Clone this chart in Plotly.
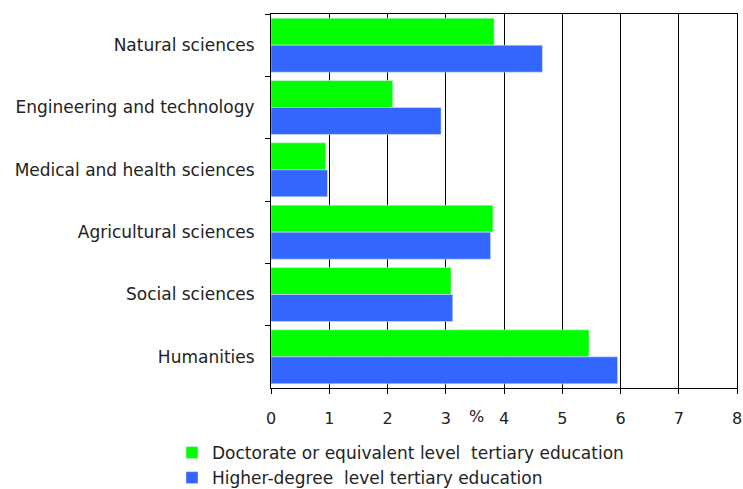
import plotly.graph_objects as go

fields = ["Natural sciences", "Engineering and technology", "Medical and health sciences",
          "Agricultural sciences", "Social sciences", "Humanities"]
doctorate = [3.83, 2.09, 0.94, 3.81, 3.09, 5.46]
higher_degree = [4.66, 2.92, 0.97, 3.77, 3.12, 5.95]
x_ticks = [0, 1, 2, 3, 4, 5, 6, 7, 8]

font = "DejaVu Sans"
W, H = 743, 489

fig = go.Figure()
fig.add_trace(go.Bar(y=fields, x=doctorate, orientation="h",
                     name="Doctorate or equivalent level  tertiary education",
                     marker=dict(color="#00FF00")))
fig.add_trace(go.Bar(y=fields, x=higher_degree, orientation="h",
                     name="Higher-degree  level tertiary education",
                     marker=dict(color="#3366FF")))

fig.update_layout(
    width=W, height=H,
    margin=dict(l=271, r=6, t=14, b=101, autoexpand=False),
    paper_bgcolor="white", plot_bgcolor="white",
    barmode="group", bargap=0.134, bargroupgap=0,
    font=dict(family=font, size=14, color="#222222"),
    legend=dict(orientation="v", xref="container", yref="container",
                x=172 / W, y=1 - 435 / H, xanchor="left", yanchor="top",
                font=dict(size=17, color="#222222"), traceorder="normal",
                tracegroupgap=0, itemclick=False, bgcolor="rgba(0,0,0,0)"),
    showlegend=True,
)

fig.update_xaxes(range=[0, 8], tickvals=x_ticks, showgrid=True, gridcolor="black",
                 gridwidth=1, showline=True, linecolor="black", linewidth=1,
                 mirror=True, ticks="outside", ticklen=5, tickcolor="black",
                 ticklabelstandoff=11, ticklabeloverflow="allow",
                 tickfont=dict(size=16, color="#222222"), zeroline=False)
fig.update_yaxes(autorange="reversed", showline=True, linecolor="black", linewidth=1,
                 mirror=True, ticks="outside", ticklen=5, tickcolor="black",
                 showgrid=False, tickson="boundaries", ticklabelstandoff=12,
                 tickfont=dict(size=17, color="#222222"))

fig.add_annotation(text="%", x=3.53, xref="x", y=-0.0775, yref="paper",
                   showarrow=False, yanchor="middle",
                   font=dict(size=16, color="#222222"))

# drop the default page margin so the figure sits at the window's corner
fig.write_html("out.html", config={"displayModeBar": False},
               post_script="document.body.style.margin='0';")
